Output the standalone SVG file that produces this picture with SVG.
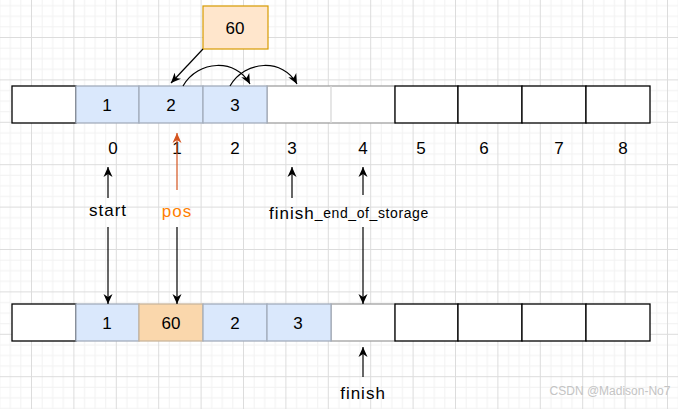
<svg xmlns="http://www.w3.org/2000/svg" width="678" height="409" viewBox="0 0 678 409">
<defs>
<pattern id="grid" patternUnits="userSpaceOnUse" x="31" y="37" width="42.4" height="42.4">
<rect x="10.6" y="0" width="1" height="42.4" fill="#f1f1f1"/>
<rect x="21.2" y="0" width="1" height="42.4" fill="#f1f1f1"/>
<rect x="31.8" y="0" width="1" height="42.4" fill="#f1f1f1"/>
<rect x="0" y="10.6" width="42.4" height="1" fill="#f1f1f1"/>
<rect x="0" y="21.2" width="42.4" height="1" fill="#f1f1f1"/>
<rect x="0" y="31.8" width="42.4" height="1" fill="#f1f1f1"/>
<rect x="0" y="0" width="1" height="42.4" fill="#dcdcdc"/>
<rect x="0" y="0" width="42.4" height="1" fill="#dcdcdc"/>
</pattern>
<marker id="ah" markerUnits="userSpaceOnUse" markerWidth="12" markerHeight="10" refX="10" refY="5" orient="auto">
<path d="M0,0.5 L10,5 L0,9.5 L3,5 Z" fill="#000"/>
</marker>
<marker id="ahr" markerUnits="userSpaceOnUse" markerWidth="12" markerHeight="10" refX="10" refY="5" orient="auto">
<path d="M0,0.5 L10,5 L0,9.5 L3,5 Z" fill="#d4541f"/>
</marker>
</defs>
<style>
.t{font-family:"Liberation Sans","DejaVu Sans",sans-serif;font-size:17px;fill:#000;text-anchor:middle;dominant-baseline:central}
.l{letter-spacing:1px}
.w{fill:#fff;stroke:#000;stroke-width:1.3}
.b{fill:#dae8fc;stroke:#a3adbc;stroke-width:1.3}
.o{fill:#fad7ac;stroke:#c9b59c;stroke-width:1.3}
.g{fill:#fff;stroke:#a0a0a0;stroke-width:1.3}
.c{fill:none;stroke:#000;stroke-width:1.2}
</style>
<rect width="678" height="409" fill="#fff"/>
<rect width="678" height="409" fill="url(#grid)"/>

<g id="top-array">
<rect class="g" x="267" y="86" width="128" height="37"/>
<line x1="331" y1="86" x2="331" y2="123" stroke="#d8d8d8" stroke-width="1.3"/>
<rect class="w" x="12" y="86" width="64" height="37"/>
<rect class="b" x="76" y="86" width="63" height="37"/>
<rect class="b" x="139" y="86" width="64" height="37"/>
<rect class="b" x="203" y="86" width="64" height="37"/>
<rect class="w" x="395" y="86" width="63" height="37"/>
<rect class="w" x="458" y="86" width="64" height="37"/>
<rect class="w" x="522" y="86" width="64" height="37"/>
<rect class="w" x="586" y="86" width="64" height="37"/>
<text class="t" x="107" y="105">1</text>
<text class="t" x="171" y="105">2</text>
<text class="t" x="235" y="105">3</text>
</g>

<g id="new-value">
<rect x="203" y="6" width="65" height="43" fill="#ffe6cc" stroke="#d79b00" stroke-width="1.2"/>
<text class="t" x="235" y="28">60</text>
</g>

<g id="indices">
<text class="t" x="113" y="148">0</text>
<text class="t" x="177" y="148">1</text>
<text class="t" x="235" y="148">2</text>
<text class="t" x="292" y="148">3</text>
<text class="t" x="363" y="148">4</text>
<text class="t" x="421" y="148">5</text>
<text class="t" x="484" y="148">6</text>
<text class="t" x="559" y="148">7</text>
<text class="t" x="623" y="148">8</text>
</g>

<g id="bottom-array">
<rect class="g" x="331" y="304" width="64" height="37"/>
<rect class="w" x="12" y="304" width="64" height="37"/>
<rect class="b" x="76" y="304" width="63" height="37"/>
<rect class="o" x="139" y="304" width="64" height="37"/>
<rect class="b" x="203" y="304" width="64" height="37"/>
<rect class="b" x="267" y="304" width="64" height="37"/>
<rect class="w" x="395" y="304" width="63" height="37"/>
<rect class="w" x="458" y="304" width="64" height="37"/>
<rect class="w" x="522" y="304" width="64" height="37"/>
<rect class="w" x="586" y="304" width="64" height="37"/>
<text class="t" x="107" y="323">1</text>
<text class="t" x="171" y="323">60</text>
<text class="t" x="235" y="323">2</text>
<text class="t" x="298" y="323">3</text>
</g>

<g id="labels">
<text class="t l" x="108" y="210">start</text>
<text class="t l" x="177" y="211" style="fill:#ff8000">pos</text>
<text class="t" x="349" y="213"><tspan class="l">finish</tspan><tspan font-size="14" letter-spacing="0.6">_end_of_storage</tspan></text>
<text class="t l" x="363" y="393">finish</text>
</g>

<g id="connectors">
<path class="c" d="M203,49 L171,83" stroke="#333" marker-end="url(#ah)"/>
<path class="c" d="M183,86 C198,60 236,58 250,84" marker-end="url(#ah)"/>
<path class="c" d="M230,86 C245,60 283,58 297,84" marker-end="url(#ah)"/>
<path class="c" d="M177,190 L177,133" style="stroke:#d4541f" marker-end="url(#ahr)"/>
<path class="c" d="M108,198 L108,167" marker-end="url(#ah)"/>
<path class="c" d="M108,227 L108,304" marker-end="url(#ah)"/>
<path class="c" d="M177,227 L177,304" marker-end="url(#ah)"/>
<path class="c" d="M292,198 L292,167" marker-end="url(#ah)"/>
<path class="c" d="M363,195 L363,167" marker-end="url(#ah)"/>
<path class="c" d="M363,227 L363,304" marker-end="url(#ah)"/>
<path class="c" d="M363,377 L363,347" marker-end="url(#ah)"/>
</g>

<text x="610" y="395" style="font-family:'Liberation Sans','DejaVu Sans',sans-serif;font-size:12px;fill:#c4c4c4;text-anchor:middle">CSDN @Madison-No7</text>
</svg>
